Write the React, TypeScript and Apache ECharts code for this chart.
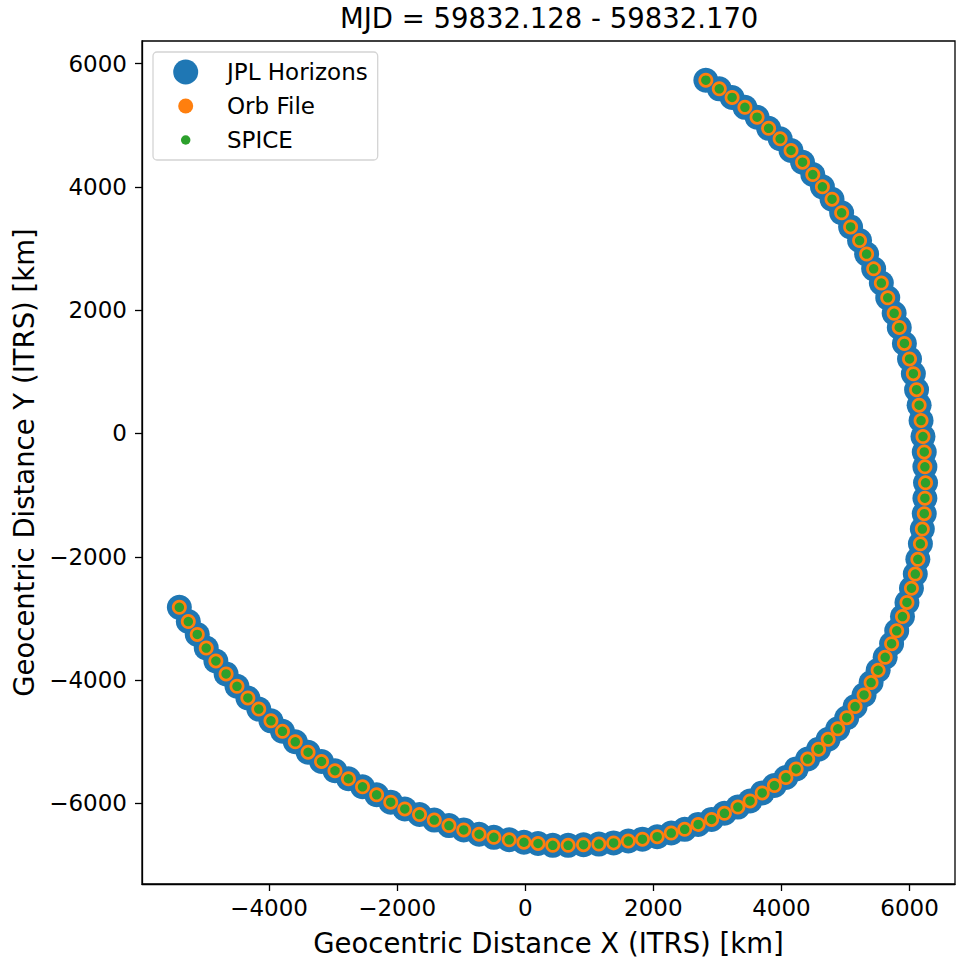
import React, { useEffect, useRef } from "react";
import * as echarts from "echarts";

const titleText = "MJD = 59832.128 - 59832.170";
const seriesNames = ["JPL Horizons", "Orb File", "SPICE"];
const seriesColors = ["#1f77b4", "#ff7f0e", "#2ca02c"];
const xTicks = [-4000, -2000, 0, 2000, 4000, 6000];
const yTicks = [-6000, -4000, -2000, 0, 2000, 4000, 6000];

const xKm = [
  2820, 3030, 3230, 3430, 3620, 3800, 3980, 4150, 4330, 4490,
  4640, 4790, 4940, 5080, 5220, 5330, 5440, 5560, 5660, 5760,
  5840, 5920, 6000, 6060, 6110, 6150, 6180, 6210, 6230, 6240,
  6250, 6240, 6230, 6200, 6170, 6130, 6090, 6030, 5960, 5890,
  5800, 5720, 5620, 5510, 5400, 5290, 5150, 5020, 4880, 4730,
  4580, 4410, 4230, 4070, 3890, 3700, 3510, 3320, 3110, 2910,
  2700, 2490, 2280, 2060, 1830, 1610, 1380, 1150, 910, 670,
  430, 200, -20, -250, -490, -720, -960, -1190, -1420, -1650,
  -1880, -2100, -2320, -2540, -2760, -2970, -3180, -3390, -3590, -3790,
  -3970, -4160, -4330, -4500, -4670, -4830, -4980, -5120, -5260, -5400,
];

const yKm = [
  5730, 5590, 5450, 5290, 5130, 4950, 4780, 4590, 4400, 4200,
  4000, 3800, 3580, 3350, 3130, 2910, 2670, 2440, 2200, 1950,
  1720, 1460, 1210, 970, 710, 460, 210, -50, -300, -540,
  -800, -1050, -1300, -1550, -1790, -2040, -2280, -2510, -2740, -2970,
  -3200, -3410, -3630, -3840, -4040, -4240, -4430, -4610, -4790, -4960,
  -5120, -5280, -5440, -5580, -5710, -5830, -5960, -6060, -6160, -6260,
  -6340, -6420, -6480, -6540, -6580, -6610, -6640, -6660, -6670, -6680,
  -6680, -6650, -6630, -6590, -6550, -6500, -6430, -6360, -6270, -6180,
  -6090, -5980, -5860, -5730, -5600, -5470, -5320, -5170, -5000, -4830,
  -4660, -4470, -4290, -4100, -3900, -3690, -3480, -3260, -3050, -2820,
];

const FONT = "DejaVu Sans";
const markerSizes = [25, 15, 9.5];

function legendIcon(r: number): string {
  const cx = 22.7;
  const cy = 13;
  return `path://M0,0M59,26M${cx - r},${cy}a${r},${r} 0 1,0 ${2 * r},0a${r},${r} 0 1,0 ${-2 * r},0z`;
}

const fmt = (v: number) => (v < 0 ? "\u2212" + Math.abs(v) : String(v));

export default function App() {
  const ref = useRef<HTMLDivElement>(null);
  useEffect(() => {
    if (!ref.current) return;
    const chart = echarts.init(ref.current, undefined, { renderer: "svg" });
    const points = xKm.map((x, i) => [x, yKm[i]]);
    chart.setOption({
      animation: false,
      backgroundColor: "#ffffff",
      textStyle: { fontFamily: FONT },
      title: {
        text: titleText,
        left: 340,
        top: 4,
        padding: 0,
        textStyle: { fontFamily: FONT, fontSize: 27.5, fontWeight: "normal", color: "#000" },
      },
      legend: {
        orient: "vertical",
        left: 153,
        top: 52,
        padding: [7, 10, 7, 10],
        itemGap: 8,
        itemWidth: 59,
        itemHeight: 26,
        backgroundColor: "#ffffff",
        borderColor: "#d4d4d4",
        borderWidth: 1.3,
        borderRadius: 4,
        textStyle: { fontFamily: FONT, fontSize: 23, color: "#000" },
        data: seriesNames.map((n, i) => ({ name: n, icon: legendIcon(markerSizes[i] / 2) })),
      },
      grid: {
        left: 142,
        top: 41,
        width: 813,
        height: 843,
        show: true,
        borderColor: "#000",
        borderWidth: 1.3,
        backgroundColor: "transparent",
        containLabel: false,
        outerBoundsMode: "none",
      },
      xAxis: {
        type: "value",
        min: -5983,
        max: 6710,
        splitNumber: 6,
        name: "Geocentric Distance X (ITRS) [km]",
        nameLocation: "middle",
        nameGap: 45,
        nameTextStyle: { fontFamily: FONT, fontSize: 27.5, color: "#000" },
        axisLine: { show: true, onZero: false, lineStyle: { color: "#000", width: 1.3 } },
        axisTick: { show: true, length: 7, lineStyle: { color: "#000", width: 1.3 }, customValues: xTicks },
        axisLabel: {
          margin: 12,
          fontFamily: FONT,
          fontSize: 23,
          color: "#000",
          customValues: xTicks,
          formatter: fmt,
        },
        splitLine: { show: false },
      },
      yAxis: {
        type: "value",
        min: -7307,
        max: 6366,
        splitNumber: 6,
        name: "Geocentric Distance Y (ITRS) [km]",
        nameLocation: "middle",
        nameGap: 100,
        nameTextStyle: { fontFamily: FONT, fontSize: 27.5, color: "#000" },
        axisLine: { show: true, onZero: false, lineStyle: { color: "#000", width: 1.3 } },
        axisTick: { show: true, length: 7, lineStyle: { color: "#000", width: 1.3 }, customValues: yTicks },
        axisLabel: {
          margin: 15,
          fontFamily: FONT,
          fontSize: 23,
          color: "#000",
          customValues: yTicks,
          formatter: fmt,
        },
        splitLine: { show: false },
      },
      series: seriesNames.map((n, i) => ({
        name: n,
        type: "scatter",
        data: points,
        symbol: "circle",
        symbolSize: markerSizes[i],
        itemStyle: { color: seriesColors[i], opacity: 1 },
        z: 2 + i,
        emphasis: { disabled: true },
      })),
    });
    return () => chart.dispose();
  }, []);
  return (
    <div
      ref={ref}
      style={{ position: "fixed", left: 0, top: 0, width: 956, height: 961, background: "#fff" }}
    />
  );
}
